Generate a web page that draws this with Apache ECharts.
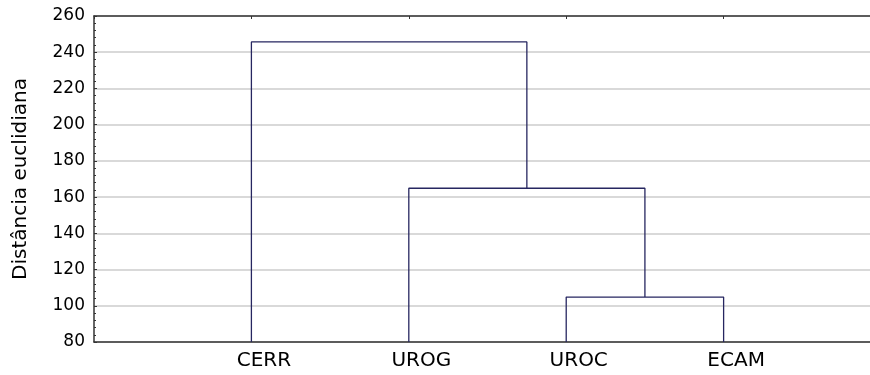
<!DOCTYPE html>
<html>
<head>
<meta charset="utf-8">
<script src="https://cdn.jsdelivr.net/npm/echarts@6/dist/echarts.min.js"></script>
<style>
  html, body { margin: 0; padding: 0; background: #fff; }
  #chart { width: 870px; height: 375px; }
</style>
</head>
<body>
<div id="chart"></div>
<script>
// Leaves of the dendrogram, in display order (positions 1..n on the x axis)
const leaves = ['CERR', 'UROG', 'UROC', 'ECAM'];
// Agglomeration steps: node ids 0..3 are leaves, 4.. are merged clusters
const mergeA = [2, 1, 0];
const mergeB = [3, 4, 5];
const mergeHeight = [104.8, 164.9, 245.7];
// Value axis ticks
const yMin = 80, yMax = 260, yStep = 20;
const axisTitle = 'Distância euclidiana';

const lineColor = '#262660';
const font = 'DejaVu Sans, sans-serif';

// Node positions: x from leaf order, height from merge distance (leaves sit on the baseline)
const nodeX = leaves.map((_, i) => i + 1);
const nodeH = leaves.map(() => yMin);
const links = [];
mergeA.forEach((a, k) => {
  const b = mergeB[k], h = mergeHeight[k];
  links.push([[nodeX[a], nodeH[a]], [nodeX[a], h], [nodeX[b], h], [nodeX[b], nodeH[b]]]);
  nodeX.push((nodeX[a] + nodeX[b]) / 2);
  nodeH.push(h);
});

const xLabel = v => (Number.isInteger(v) && v >= 1 && v <= leaves.length) ? leaves[v - 1] : '';

const chart = echarts.init(document.getElementById('chart'), null, { renderer: 'canvas' });
chart.setOption({
  animation: false,
  backgroundColor: '#ffffff',
  grid: { left: 94, right: 0, top: 16, bottom: 33 },
  xAxis: [{
    type: 'value', min: 0, max: 4.93, interval: 1,
    axisLine: { show: true, lineStyle: { color: '#333', width: 1.5 } },
    axisTick: { show: false },
    splitLine: { show: false },
    axisLabel: { formatter: xLabel, color: '#000', fontFamily: font, fontSize: 20, margin: 9,
                 padding: [0, 0, 0, 25], showMinLabel: false, showMaxLabel: false }
  }, {
    type: 'value', position: 'top', min: 0, max: 4.93, interval: 1,
    axisLine: { show: true, onZero: false, lineStyle: { color: '#333', width: 1.5 } },
    axisTick: { show: true, inside: true, length: 3, lineStyle: { color: '#333' } },
    axisLabel: { show: false },
    splitLine: { show: false }
  }],
  yAxis: {
    type: 'value', min: yMin, max: yMax, interval: yStep,
    name: axisTitle, nameLocation: 'middle', nameGap: 63,
    nameTextStyle: { color: '#000', fontFamily: font, fontSize: 20 },
    axisLine: { show: true, lineStyle: { color: '#333', width: 1.5 } },
    axisTick: { show: true, inside: true, length: 3, lineStyle: { color: '#333' } },
    minorTick: { show: true, splitNumber: 5, length: 2, lineStyle: { color: '#333' } },
    splitLine: { show: true, lineStyle: { color: '#cccccc', width: 1.5 } },
    axisLabel: { color: '#000', fontFamily: font, fontSize: 17, margin: 9 }
  },
  series: links.map(pts => ({
    type: 'line', data: pts, symbol: 'none', xAxisIndex: 0,
    lineStyle: { color: lineColor, width: 1.3 }, z: 3
  }))
});
</script>
</body>
</html>
